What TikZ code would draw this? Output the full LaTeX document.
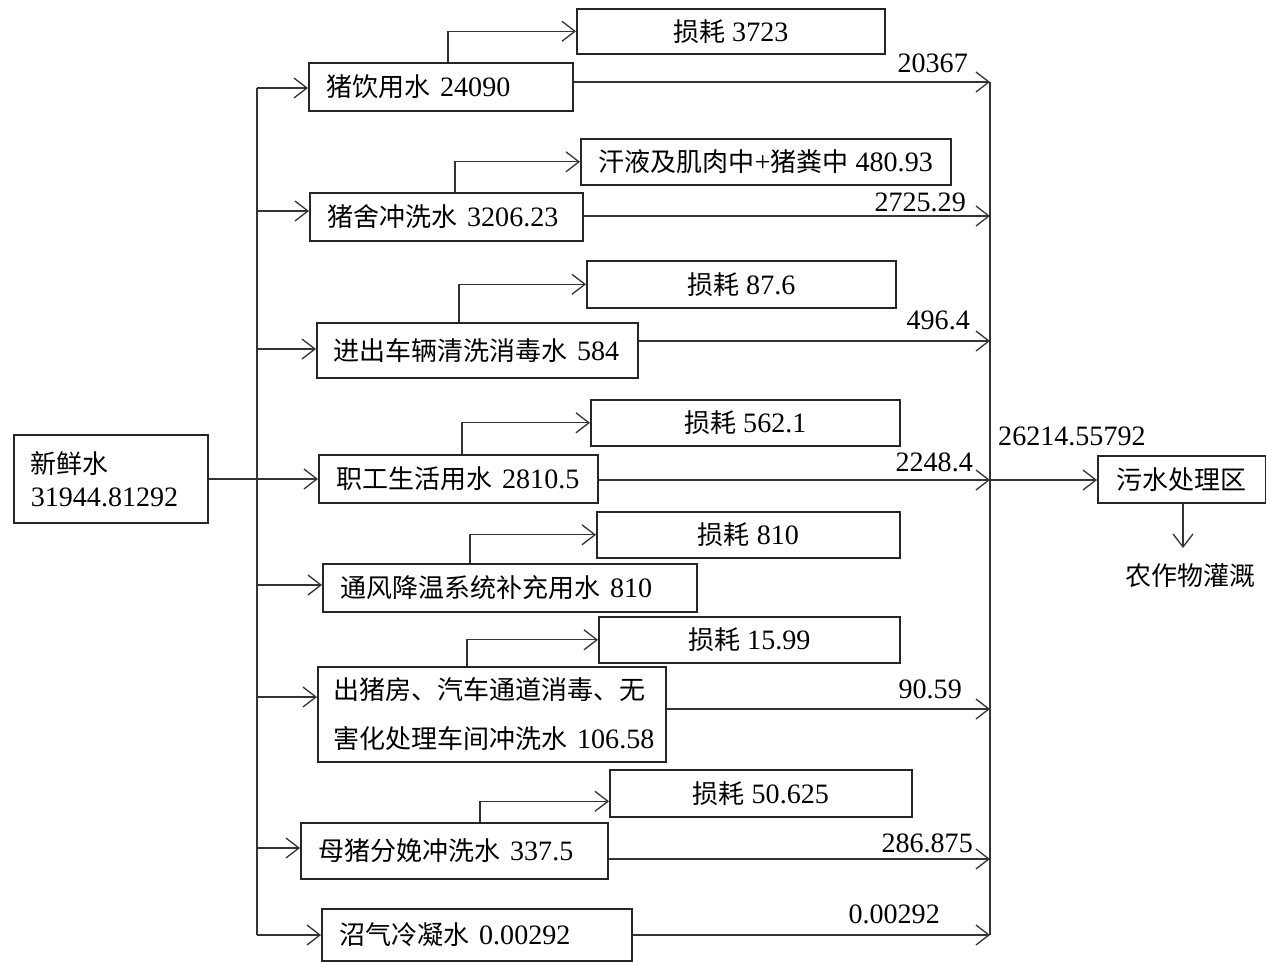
\documentclass[tikz,border=0pt]{standalone}
\usepackage{fontspec}
\setmainfont{Liberation Serif}[Scale=1.08]
\newfontfamily\cjk{Noto Sans CJK SC}
\usetikzlibrary{arrows.meta}
\newcommand\zh[1]{{\cjk #1}}
\begin{document}
\begin{tikzpicture}[x=1pt,y=-1pt,
 font=\fontsize{26}{32}\selectfont,
 box/.style={draw=black!85, line width=1.6pt, inner sep=0pt},
 mbox/.style={box, anchor=north west, align=left, inner xsep=18pt},
 lbox/.style={box, anchor=north west, align=center},
 arr/.style={draw=black!80, line width=1.3pt, -{Straight Barb[length=13pt,width=20pt,line width=1.3pt]}},
 ln/.style={draw=black!80, line width=1.3pt},
 lab/.style={anchor=base east, inner sep=0pt}]
\useasboundingbox (0,0) rectangle (1266,961);
% source
\node[mbox, inner xsep=17pt, text width=160pt, minimum height=88pt, font=\fontsize{26}{33}\selectfont] (fresh) at (13,434) {\zh{新鲜水}\\\mbox{31944.81292}};
% main boxes
\node[mbox, text width=228pt, minimum height=48pt] (m1) at (308,62) {\mbox{\zh{猪饮用水} 24090}};
\node[mbox, text width=237pt, minimum height=48pt] (m2) at (309,192) {\mbox{\zh{猪舍冲洗水} 3206.23}};
\node[mbox, inner xsep=17pt, text width=287pt, minimum height=55pt] (m3) at (316,322) {\mbox{\zh{进出车辆清洗消毒水} 584}};
\node[mbox, text width=243pt, minimum height=48pt] (m4) at (318,454) {\mbox{\zh{职工生活用水} 2810.5}};
\node[mbox, text width=338pt, minimum height=48pt] (m5) at (322,563) {\mbox{\zh{通风降温系统补充用水} 810}};
\node[mbox, inner xsep=16pt, text width=316pt, minimum height=95pt, font=\fontsize{26}{49}\selectfont] (m6) at (317,666) {\mbox{\zh{出猪房、汽车通道消毒、无}}\\\mbox{\zh{害化处理车间冲洗水} 106.58}};
\node[mbox, text width=271pt, minimum height=56pt] (m7) at (300,822) {\mbox{\zh{母猪分娩冲洗水} 337.5}};
\node[mbox, text width=274pt, minimum height=52pt] (m8) at (321,908) {\mbox{\zh{沼气冷凝水} 0.00292}};
% loss boxes
\node[lbox, minimum width=308pt, minimum height=45pt] (l1) at (576,8) {\zh{损耗} 3723};
\node[lbox, minimum width=370pt, minimum height=46pt] (l2) at (580,138) {\zh{汗液及肌肉中}+\zh{猪粪中} 480.93};
\node[lbox, minimum width=309pt, minimum height=47pt] (l3) at (586,260) {\zh{损耗} 87.6};
\node[lbox, minimum width=309pt, minimum height=46pt] (l4) at (590,399) {\zh{损耗} 562.1};
\node[lbox, minimum width=303pt, minimum height=46pt] (l5) at (596,511) {\zh{损耗} 810};
\node[lbox, minimum width=301pt, minimum height=46pt] (l6) at (598,616) {\zh{损耗} 15.99};
\node[lbox, minimum width=302pt, minimum height=47pt] (l7) at (609,769) {\zh{损耗} 50.625};
% sewage
\node[lbox, minimum width=168pt, minimum height=47pt] (sew) at (1097,455) {\zh{污水处理区}};
\node[inner sep=0pt] (farm) at (1190,576) {\zh{农作物灌溉}};
\coordinate (fa) at (1183,548);
% trunk coordinates
\coordinate (t1) at (257,88);
\coordinate (t2) at (257,211);
\coordinate (t3) at (257,349);
\coordinate (t4) at (257,479);
\coordinate (t5) at (257,585);
\coordinate (t6) at (257,697);
\coordinate (t7) at (257,848);
\coordinate (t8) at (257,935);
\coordinate (r1) at (990,82);
\coordinate (r2) at (990,216);
\coordinate (r3) at (990,341);
\coordinate (r4) at (990,480);
\coordinate (r6) at (990,709);
\coordinate (r7) at (990,859);
\coordinate (r8) at (990,935);
% trunk
\draw[ln] (t1) -- (t8);
\draw[arr] (fresh.east |- t4) -- (m4.west |- t4);
\foreach \i in {1,2,3,5,6,7,8} \draw[arr] (t\i) -- (m\i.west |- t\i);
% outputs
\draw[ln] (r1) -- (r8);
\foreach \i in {1,2,3,4,6,7,8} \draw[arr] (m\i.east |- r\i) -- (r\i);
\draw[arr] (r4) -- (sew.west |- r4);
\draw[arr] (sew.south -| fa) -- (fa);
% branches
\draw[arr] ([xshift=140pt]m1.north west) |- (l1.west);
\draw[arr] ([xshift=146pt]m2.north west) |- (l2.west);
\draw[arr] ([xshift=143pt]m3.north west) |- (l3.west);
\draw[arr] ([xshift=144pt]m4.north west) |- (l4.west);
\draw[arr] ([xshift=148pt]m5.north west) |- (l5.west);
\draw[arr] ([xshift=150pt]m6.north west) |- (l6.west);
\draw[arr] ([xshift=180pt]m7.north west) |- ([yshift=-8pt]l7.west);
% labels
\node[lab] at (968,72) {20367};
\node[lab] at (966,211) {2725.29};
\node[lab] at (970,329) {496.4};
\node[lab] at (973,471) {2248.4};
\node[lab] at (962,698) {90.59};
\node[lab] at (973,852) {286.875};
\node[lab] at (940,923) {0.00292};
\node[anchor=base west, inner sep=0pt] at (998,445) {26214.55792};
\end{tikzpicture}
\end{document}
